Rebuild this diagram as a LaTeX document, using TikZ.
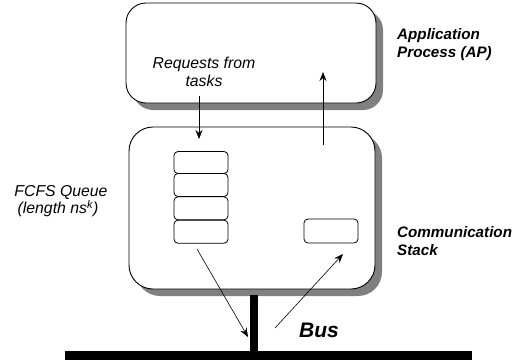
\documentclass[tikz,border=0pt]{standalone}
\usepackage{fontspec}
\setmainfont{Liberation Sans}
\usetikzlibrary{arrows.meta,shadows}
\begin{document}
\begin{tikzpicture}[x=1pt,y=-1pt,
  bigbox/.style={draw, line width=0.9pt, fill=white, inner sep=0pt,
    drop shadow={shadow xshift=7pt, shadow yshift=-7pt, fill=black!50, opacity=1}},
  slot/.style={draw, line width=0.8pt, rounded corners=4pt, minimum width=54pt, inner sep=0pt},
  arr/.style={line width=0.6pt, -{Stealth[length=9pt,width=7pt]}},
  lbl/.style={inner sep=0pt, font=\fontsize{15.8}{18}\selectfont\itshape},
  blbl/.style={inner sep=0pt, align=left, font=\fontsize{15.2}{18}\selectfont\bfseries\itshape},
  bar/.style={line width=9pt}]
\useasboundingbox (0,0) rectangle (528,360);
% boxes
\node[bigbox, rounded corners=20pt, minimum width=250pt, minimum height=100pt] (ap) at (251,53) {};
\node[bigbox, rounded corners=24pt, minimum width=246pt, minimum height=162pt] (cs) at (252,208) {};
% queue
\node[slot, minimum height=22pt] (q1) at (201,162.5) {};
\node[slot, minimum height=23pt] (q2) at (201,185) {};
\node[slot, minimum height=23pt] (q3) at (201,208.3) {};
\node[slot, minimum height=23pt] (q4) at (201,231.7) {};
\node[slot, minimum height=24pt] (sb) at (331,231) {};
% bus
\coordinate (busL) at (65,355.5);
\coordinate (busR) at (472,355.5);
\coordinate (stemT) at (254,295);
\coordinate (stemB) at (254,351);
\draw[bar] (busL) -- (busR);
\draw[line width=8pt] (stemT) -- (stemB);
% arrows
\coordinate (r1) at (199,96);
\coordinate (r2) at (199,139);
\coordinate (u1) at (323,145);
\coordinate (u2) at (323,72);
\coordinate (d1) at (197,249);
\coordinate (d2) at (248,337);
\coordinate (e1) at (275,328);
\coordinate (e2) at (343,254);
\draw[arr] (r1) -- (r2);
\draw[arr] (u1) -- (u2);
\draw[arr] (d1) -- (d2);
\draw[arr] (e1) -- (e2);
% labels
\node[lbl, anchor=base] (req1) at (204,68) {Requests from};
\node[lbl, anchor=base] (req2) at (204,86) {tasks};
\node[lbl, anchor=base] (fq1) at (61,196.7) {FCFS Queue};
\node[lbl, anchor=base] (fq2) at (58,213.5) {(length ns\textsuperscript{k})};
\node[blbl, anchor=base west] (apl1) at (397,39.3) {Application};
\node[blbl, anchor=base west] (apl2) at (397,57) {Process (AP)};
\node[blbl, anchor=base west] (csl1) at (397,237) {Communication};
\node[blbl, anchor=base west] (csl2) at (397,255) {Stack};
\node[inner sep=0pt, anchor=base west, font=\fontsize{21}{24}\selectfont\bfseries\itshape] (bus) at (299,337.7) {Bus};
\end{tikzpicture}
\end{document}
